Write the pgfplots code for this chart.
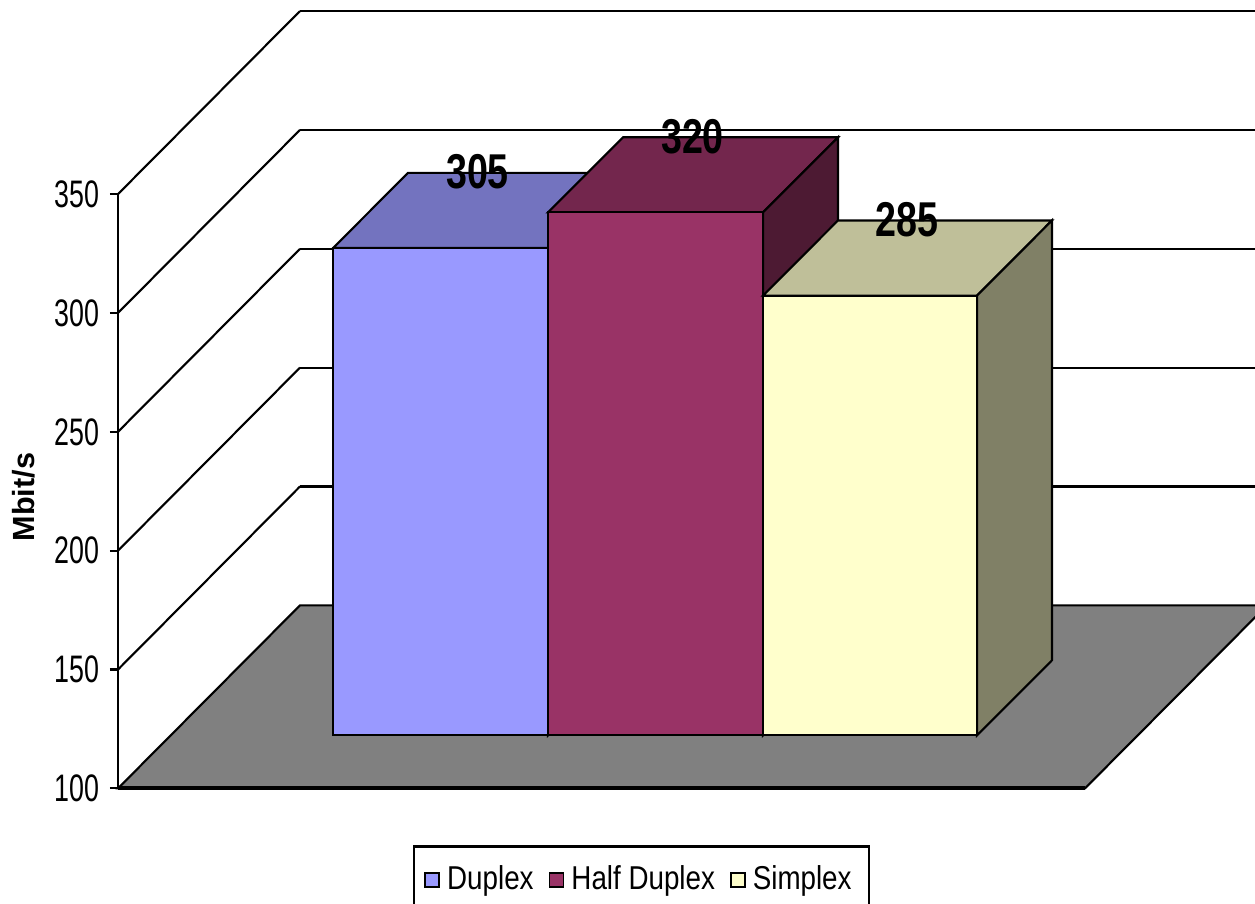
\documentclass[border=0pt]{standalone}
\usepackage{fontspec}
\setmainfont{Liberation Sans}
\newfontfamily\tickfamily{Liberation Sans}[FakeStretch=0.70]
\newfontfamily\legfamily{Liberation Sans}[FakeStretch=0.84]
\newfontfamily\barfamily{Liberation Sans}[FakeStretch=0.77]
\usepackage{pgfplots}
\pgfplotsset{compat=1.18}

\definecolor{dupF}{HTML}{9999FF}
\definecolor{dupT}{HTML}{7373BF}
\definecolor{dupS}{HTML}{4D4D80}
\definecolor{halfF}{HTML}{993366}
\definecolor{halfT}{HTML}{73264D}
\definecolor{halfS}{HTML}{4D1A33}
\definecolor{simF}{HTML}{FFFFCC}
\definecolor{simT}{HTML}{BFBF99}
\definecolor{simS}{HTML}{808066}
\definecolor{floorgray}{HTML}{808080}

\begin{document}
\begin{tikzpicture}
% 1 px of the reference = 0.01cm; y in Mbit/s (front plane)
\begin{axis}[
    x=0.01cm, y=0.02376cm,
    xmin=118, xmax=1255, ymin=100, ymax=350,
    clip=false,
    axis x line=none, axis y line*=left,
    axis line style={black, line width=0.6pt},
    ytick={100,150,...,350},
    tick align=outside,
    major tick length=0.08cm,
    tick style={black, line width=0.6pt},
    /pgf/number format/assume math mode=true,
    yticklabel style={font=\tickfamily\fontsize{10.9}{12}\selectfont, xshift=0.02cm},
    legend columns=3,
    legend style={at={(axis cs:641.5,76)}, anchor=north,
        draw=black, line width=0.6pt,
        font=\legfamily\fontsize{9.4}{11}\selectfont,
        inner xsep=0.1cm, inner ysep=0.12cm,
        /tikz/every even column/.append style={column sep=0.08cm}},
    legend image code/.code={\draw[#1,draw=black,line width=0.5pt] (0cm,-0.07cm) rectangle (0.14cm,0.07cm);},
]
% floor
\addplot[fill=floorgray, draw=black, line width=0.6pt, forget plot]
    coordinates {(118,100) (1085,100) (1267,177) (300,177)} -- cycle;
\addplot[black, line width=1.1pt, forget plot] coordinates {(118,100) (1085,100)};
% back wall grid
\addplot[black, line width=0.6pt, forget plot] coordinates {(300,227) (1267,227)};
\addplot[black, line width=0.6pt, forget plot] coordinates {(300,277) (1267,277)};
\addplot[black, line width=0.6pt, forget plot] coordinates {(300,327) (1267,327)};
\addplot[black, line width=0.6pt, forget plot] coordinates {(300,377) (1267,377)};
\addplot[black, line width=0.6pt, forget plot] coordinates {(300,427) (1267,427)};
% side wall grid
\addplot[black, line width=0.6pt, forget plot] coordinates {(118,150) (300,227)};
\addplot[black, line width=0.6pt, forget plot] coordinates {(118,200) (300,277)};
\addplot[black, line width=0.6pt, forget plot] coordinates {(118,250) (300,327)};
\addplot[black, line width=0.6pt, forget plot] coordinates {(118,300) (300,377)};
\addplot[black, line width=0.6pt, forget plot] coordinates {(118,350) (300,427)};

% Duplex = 305
\addplot[fill=dupT, draw=black, line width=0.6pt, forget plot]
    coordinates {(333,327.3) (548,327.3) (623,358.9) (408,358.9)} -- cycle;
\addplot[fill=dupS, draw=black, line width=0.6pt, forget plot]
    coordinates {(548,122.3) (623,153.9) (623,358.9) (548,327.3)} -- cycle;
\addplot[fill=dupF, draw=black, line width=0.6pt]
    coordinates {(333,122.3) (548,122.3) (548,327.3) (333,327.3)} -- cycle;
% Half Duplex = 320
\addplot[fill=halfT, draw=black, line width=0.6pt, forget plot]
    coordinates {(548,342.3) (763,342.3) (838,373.9) (623,373.9)} -- cycle;
\addplot[fill=halfS, draw=black, line width=0.6pt, forget plot]
    coordinates {(763,122.3) (838,153.9) (838,373.9) (763,342.3)} -- cycle;
\addplot[fill=halfF, draw=black, line width=0.6pt]
    coordinates {(548,122.3) (763,122.3) (763,342.3) (548,342.3)} -- cycle;
% Simplex = 285
\addplot[fill=simT, draw=black, line width=0.6pt, forget plot]
    coordinates {(763,307.3) (977,307.3) (1052,338.9) (838,338.9)} -- cycle;
\addplot[fill=simS, draw=black, line width=0.6pt, forget plot]
    coordinates {(977,122.3) (1052,153.9) (1052,338.9) (977,307.3)} -- cycle;
\addplot[fill=simF, draw=black, line width=0.6pt]
    coordinates {(763,122.3) (977,122.3) (977,307.3) (763,307.3)} -- cycle;
\legend{Duplex, Half Duplex, Simplex}

% value labels
\node[font=\barfamily\bfseries\fontsize{13.9}{15}\selectfont] at (axis cs:477.5,359.3) {305};
\node[font=\barfamily\bfseries\fontsize{13.9}{15}\selectfont] at (axis cs:692.5,374.3) {320};
\node[font=\barfamily\bfseries\fontsize{13.9}{15}\selectfont] at (axis cs:907,339.3) {285};
% axis title
\node[rotate=90, font=\bfseries\fontsize{8.7}{10}\selectfont] at (axis cs:24,222.5) {Mbit/s};

\coordinate (bl) at (axis cs:0,51.6);
\coordinate (tr) at (axis cs:1255,431.65);
\end{axis}
\pgfresetboundingbox
\path[use as bounding box] (bl) rectangle (tr);
\end{tikzpicture}
\end{document}
